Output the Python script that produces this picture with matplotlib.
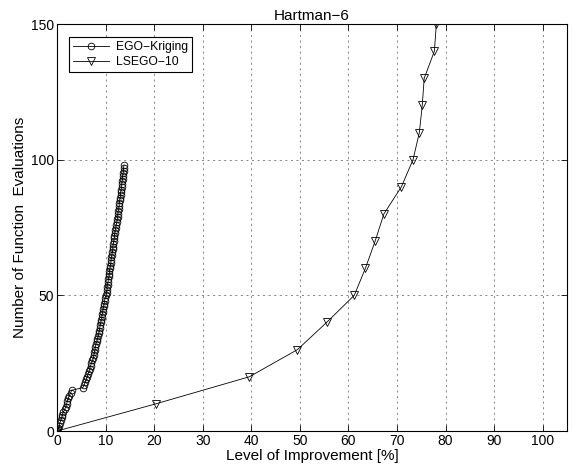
import numpy as np
import matplotlib
matplotlib.use("Agg")
import matplotlib.pyplot as plt

plt.rcParams['font.family'] = ['Liberation Sans', 'DejaVu Sans']

# EGO-Kriging: improvement [%] after each function evaluation
ego_x = [0.0, 0.3, 0.5, 0.6, 0.8, 1.0, 1.1, 1.3, 1.6, 1.8,
         2.0, 2.1, 2.3, 2.5, 2.8, 3.0, 5.3, 5.6, 5.8, 6.0,
         6.2, 6.4, 6.6, 6.7, 6.9, 7.1, 7.3, 7.5, 7.6, 7.7,
         7.8, 7.9, 8.0, 8.2, 8.3, 8.5, 8.6, 8.7, 8.8, 8.9,
         9.0, 9.1, 9.2, 9.3, 9.4, 9.5, 9.6, 9.7, 9.8, 9.9,
         10.1, 10.2, 10.3, 10.3, 10.4, 10.5, 10.6, 10.7, 10.8, 10.8,
         10.9, 11.0, 11.1, 11.1, 11.2, 11.3, 11.4, 11.5, 11.5, 11.6,
         11.7, 11.8, 11.8, 11.9, 12.0, 12.1, 12.2, 12.3, 12.4, 12.5,
         12.5, 12.6, 12.7, 12.8, 12.8, 12.9, 13.0, 13.1, 13.1, 13.2,
         13.3, 13.3, 13.4, 13.5, 13.5, 13.6, 13.7, 13.7, 13.8]
ego_y = list(range(len(ego_x)))

# LSEGO-10
lsego_x = [0.0, 20.3, 39.6, 49.5, 55.5, 61.2, 63.5, 65.5, 67.3, 70.9,
           73.3, 74.6, 75.2, 75.6, 77.7, 78.1]
lsego_y = [0, 10, 20, 30, 40, 50, 60, 70, 80, 90,
           100, 110, 120, 130, 140, 150]

xticks = [0, 10, 20, 30, 40, 50, 60, 70, 80, 90, 100]
yticks = [0, 50, 100, 150]

fig = plt.figure(figsize=(5.74, 4.67), dpi=100)
ax = fig.add_axes([0.0993, 0.077, 0.8885, 0.8716])

ax.plot(ego_x, ego_y, color='k', lw=0.6, marker='o', markersize=4.8,
        markerfacecolor='none', markeredgewidth=0.6, label='EGO\u2212Kriging')
ax.plot(lsego_x, lsego_y, color='k', lw=0.6, marker='v', markersize=6,
        markerfacecolor='none', markeredgewidth=0.6, label='LSEGO\u221210')

ax.set_xlim(0, 105)
ax.set_ylim(0, 150)
ax.set_xticks(xticks)
ax.set_yticks(yticks)
ax.grid(True, color='0.35', linestyle=(0, (3, 5)), linewidth=0.5)
ax.tick_params(direction='in', top=True, right=True, length=4, width=0.6,
               labelsize=10, pad=2)
for s in ax.spines.values():
    s.set_linewidth(0.8)

ax.set_xlabel('Level of Improvement [%]', fontsize=11, labelpad=1)
ax.set_ylabel('Number of Function  Evaluations', fontsize=11, labelpad=3)
ax.set_title('Hartman\u22126', fontsize=11, pad=3)

leg = ax.legend(loc='upper left', fontsize=8.7, fancybox=False, framealpha=1,
                edgecolor='k', borderpad=0.35, labelspacing=0.25,
                handlelength=3.0, handletextpad=0.5,
                bbox_to_anchor=(0.0117, 0.983))
leg.get_frame().set_linewidth(0.8)

fig.savefig('out.png', dpi=100)
